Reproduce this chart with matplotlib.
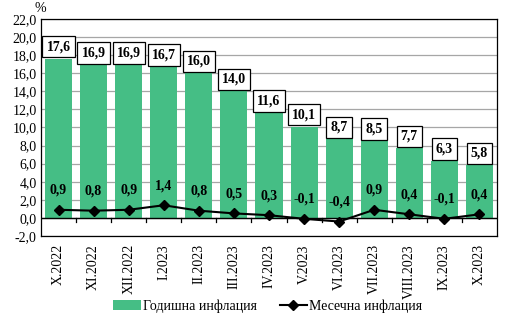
import matplotlib
matplotlib.use("Agg")
import matplotlib.pyplot as plt
from matplotlib.lines import Line2D
from matplotlib.patches import Patch
import numpy as np

categories = ["X.2022", "XI.2022", "XII.2022", "I.2023", "II.2023", "III.2023",
              "IV.2023", "V.2023", "VI.2023", "VII.2023", "VIII.2023", "IX.2023", "X.2023"]
annual = [17.6, 16.9, 16.9, 16.7, 16.0, 14.0, 11.6, 10.1, 8.7, 8.5, 7.7, 6.3, 5.8]
monthly = [0.9, 0.8, 0.9, 1.4, 0.8, 0.5, 0.3, -0.1, -0.4, 0.9, 0.4, -0.1, 0.4]
yticks = np.arange(-2, 22.1, 2)

plt.rcParams['font.family'] = ['Liberation Serif', 'DejaVu Serif']

def fmt(v):
    return f"{v:.1f}".replace(".", ",")

fig = plt.figure(figsize=(5.15, 3.27), dpi=100)
ax = fig.add_axes([41/515, 1 - 236/327, (497-41)/515, (236-19)/327])

x = np.arange(len(categories))
green = "#45BE85"
ax.bar(x, annual, width=0.77, color=green, zorder=2)
ax.plot(x, monthly, color="black", lw=1.5, marker="D", ms=5, zorder=4)

ax.set_xlim(-0.5, len(categories) - 0.5)
ax.set_ylim(-2, 22)
ax.set_yticks(yticks)
ax.set_yticklabels([fmt(v) for v in yticks], fontsize=10)
ax.yaxis.grid(True, color="#a6a6a6", lw=0.9, zorder=0)
ax.set_axisbelow(True)
ax.tick_params(axis="y", length=0, pad=3)

for s in ax.spines.values():
    s.set_color("black")
    s.set_linewidth(0.9)

# x axis at zero with ticks between categories
ax.axhline(0, color="black", lw=1.0, zorder=3)
ax.set_xticks([])
for b in np.arange(0.5, len(categories) - 0.5, 1.0):
    ax.plot([b, b], [0, -0.45], color="black", lw=0.9, zorder=3, clip_on=False)
for i, c in enumerate(categories):
    ax.text(i, -2.9, c, rotation=90, ha="center", va="top", fontsize=10,
            transform=ax.transData)

for i, v in enumerate(annual):
    ax.annotate(fmt(v), (i, v), xytext=(0, 4), textcoords="offset points",
                ha="center", va="bottom", fontsize=10, fontweight="bold",
                bbox=dict(boxstyle="square,pad=0.3", fc="white", ec="black", lw=0.9),
                zorder=5)
for i, v in enumerate(monthly):
    ax.annotate(fmt(v), (i, v), xytext=(0, 14), textcoords="offset points",
                ha="center", va="center", fontsize=10, fontweight="bold", zorder=5)

fig.text(40/515, 1 - 9/327, "%", ha="center", va="center", fontsize=10)

handles = [Patch(facecolor=green, edgecolor="none"),
           Line2D([0], [0], color="black", lw=1.5, marker="D", ms=5)]
fig.legend(handles, ["Годишна инфлация", "Месечна инфлация"], loc="center",
           bbox_to_anchor=(268/515, 1 - 306/327), ncol=2, frameon=False,
           fontsize=10, handlelength=2.0, handletextpad=0.15, columnspacing=1.6)

fig.savefig("out.png", dpi=100)
